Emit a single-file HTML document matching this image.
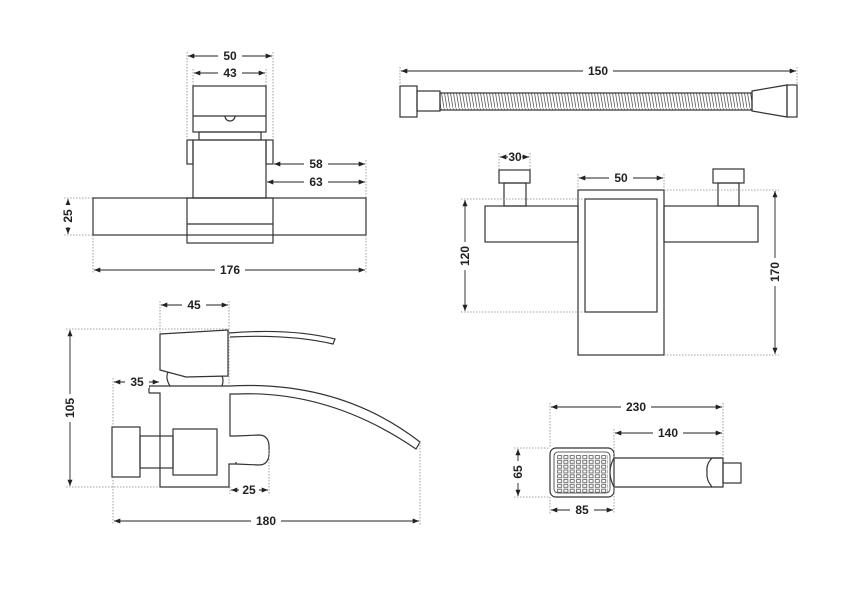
<!DOCTYPE html>
<html><head><meta charset="utf-8"><style>
html,body{margin:0;padding:0;background:#fff;}
svg{display:block;}
text{font-family:"Liberation Sans",sans-serif;font-size:12px;fill:#222;font-weight:600;}
</style></head><body>
<svg width="842" height="595" viewBox="0 0 842 595" xmlns="http://www.w3.org/2000/svg">
<defs>
<marker id="a" viewBox="0 0 10 10" refX="10" refY="5" markerWidth="7" markerHeight="7" orient="auto-start-reverse"><path d="M0,1 L10,5 L0,9 z" fill="#222"/></marker>
<pattern id="coil" width="3" height="18" patternUnits="userSpaceOnUse"><line x1="0" y1="0" x2="3" y2="18" stroke="#555" stroke-width="0.8"/></pattern>
<pattern id="grid" x="557" y="455" width="6.3" height="4.8" patternUnits="userSpaceOnUse"><rect x="0.6" y="0.6" width="4" height="3" fill="none" stroke="#555" stroke-width="0.8"/></pattern>
</defs>
<g fill="none" stroke="#333" stroke-width="1.2">
<!-- TOP LEFT -->
<rect x="193" y="86" width="73" height="46"/>
<line x1="193" y1="116" x2="266" y2="116"/>
<path d="M225,116 a5,5 0 0 0 10,0"/>
<rect x="199" y="132" width="62" height="8"/>
<rect x="193" y="140" width="73" height="58"/>
<rect x="187" y="140" width="6" height="24"/>
<rect x="266" y="140" width="7" height="24"/>
<rect x="93" y="198" width="273" height="37"/>
<rect x="187" y="198" width="86" height="45"/>
<line x1="187" y1="224" x2="273" y2="224"/>
<!-- HOSE -->
<rect x="400" y="86" width="17" height="31"/>
<rect x="417" y="91" width="23" height="20"/>
<rect x="440" y="93" width="312" height="17" fill="url(#coil)"/>
<path d="M752,91 L787,85 L787,117 L752,111 z"/>
<rect x="787" y="85" width="10" height="32"/>
<!-- TOP RIGHT MIXER -->
<rect x="499" y="170" width="31" height="13"/>
<rect x="504" y="183" width="22" height="23"/>
<rect x="713" y="169" width="31" height="14"/>
<rect x="718" y="183" width="21" height="23"/>
<rect x="485" y="206" width="93" height="36"/>
<rect x="664" y="206" width="94" height="36"/>
<rect x="578" y="190" width="86" height="165"/>
<rect x="585" y="199" width="72" height="113"/>
<!-- BOTTOM LEFT -->
<path d="M160,334 L228,330 L228,376 L186,377 L160,370 z"/>
<path d="M229,333 Q290,328 335,339 L333,344 Q290,334 230,337"/>
<path d="M170,386 Q165,378 168,372"/>
<path d="M222,386 Q224,380 222,376"/>
<path d="M149,393 L149,386 L229,386"/>
<path d="M229,386 Q340,380 420,442 L416,449 Q330,390 236,394"/>
<path d="M149,393 L160,393 L160,487 L229,487 L229,464 L236,464 L236,462"/>
<path d="M236,394 L230,394 L230,436 L236,436"/>
<path d="M236,436 L259,435 Q270,435 269,450 Q270,465 259,465 L236,464"/>
<rect x="112" y="427" width="28" height="50" fill="#fff"/>
<rect x="140" y="436" width="33" height="32"/>
<rect x="173" y="429" width="44" height="46"/>
<!-- BOTTOM RIGHT -->
<rect x="550" y="448" width="64" height="49" rx="6"/>
<rect x="554" y="452" width="56" height="41" rx="4" stroke-width="0.8"/>
<rect x="557" y="455" width="51" height="38" fill="url(#grid)" stroke="none"/>
<path d="M614,458 L723,458 L723,487 L614,487 Q606,472 614,458"/>
<path d="M723,458 L712,458 Q706,464 707,472 Q706,480 712,487"/>
<rect x="723" y="463" width="18" height="20"/>
</g>
<!-- dotted extension lines -->
<g fill="none" stroke="#888" stroke-width="0.8" stroke-dasharray="1.5,1.5">
<path d="M187,52 V140 M273,52 V140 M193,69 V86 M266,69 V86 M366,160 V198 M93,235 V274 M366,235 V274 M64,198 H93 M64,235 H93"/>
<path d="M400,67 V86 M797,67 V85"/>
<path d="M499,153 V170 M530,153 V170 M578,174 V190 M664,174 V190 M461,199 H585 M461,312 H585 M664,190 H779 M664,355 H779"/>
<path d="M160,301 V334 M229,301 V386 M66,329 H228 M66,487 H160 M113,378 V427 M113,477 V525 M420,442 V525 M269,450 V494 M230,487 V494"/>
<path d="M550,403 V448 M723,403 V458 M614,429 V458 M514,448 H550 M514,497 H550 M550,497 V514 M614,487 V514"/>
</g>
<!-- dimension lines -->
<g fill="none" stroke="#222" stroke-width="0.9" marker-start="url(#a)" marker-end="url(#a)">
<line x1="188" y1="56" x2="272" y2="56"/>
<line x1="194" y1="73" x2="265" y2="73"/>
<line x1="274" y1="164" x2="365" y2="164"/>
<line x1="267" y1="182" x2="365" y2="182"/>
<line x1="68" y1="199" x2="68" y2="234"/>
<line x1="94" y1="270" x2="365" y2="270"/>
<line x1="401" y1="71" x2="796" y2="71"/>
<line x1="500" y1="157" x2="529" y2="157"/>
<line x1="579" y1="178" x2="663" y2="178"/>
<line x1="465" y1="200" x2="465" y2="311"/>
<line x1="775" y1="191" x2="775" y2="354"/>
<line x1="161" y1="305" x2="228" y2="305"/>
<line x1="114" y1="382" x2="159" y2="382"/>
<line x1="70" y1="330" x2="70" y2="486"/>
<line x1="231" y1="490" x2="268" y2="490"/>
<line x1="114" y1="521" x2="419" y2="521"/>
<line x1="551" y1="407" x2="722" y2="407"/>
<line x1="615" y1="433" x2="722" y2="433"/>
<line x1="518" y1="449" x2="518" y2="496"/>
<line x1="551" y1="510" x2="613" y2="510"/>
</g>
<!-- labels -->
<g text-anchor="middle">
<rect x="218" y="50" width="24" height="12" fill="#fff"/><text x="230" y="60">50</text>
<rect x="218" y="67" width="24" height="12" fill="#fff"/><text x="230" y="77">43</text>
<rect x="304" y="158" width="24" height="12" fill="#fff"/><text x="316" y="168">58</text>
<rect x="304" y="176" width="24" height="12" fill="#fff"/><text x="316" y="186">63</text>
<rect x="62" y="205" width="12" height="22" fill="#fff"/><text transform="translate(72,216) rotate(-90)">25</text>
<rect x="215" y="264" width="30" height="12" fill="#fff"/><text x="230" y="274">176</text>
<rect x="583" y="65" width="30" height="12" fill="#fff"/><text x="598" y="75">150</text>
<rect x="508" y="151" width="14" height="12" fill="#fff"/><text x="515" y="161">30</text>
<rect x="609" y="172" width="24" height="12" fill="#fff"/><text x="621" y="182">50</text>
<rect x="459" y="242" width="12" height="28" fill="#fff"/><text transform="translate(469,256) rotate(-90)">120</text>
<rect x="769" y="258" width="12" height="28" fill="#fff"/><text transform="translate(779,272) rotate(-90)">170</text>
<rect x="182" y="299" width="24" height="12" fill="#fff"/><text x="194" y="309">45</text>
<rect x="125" y="376" width="24" height="12" fill="#fff"/><text x="137" y="386">35</text>
<rect x="64" y="394" width="12" height="28" fill="#fff"/><text transform="translate(74,408) rotate(-90)">105</text>
<rect x="239" y="484" width="20" height="12" fill="#fff"/><text x="249" y="494">25</text>
<rect x="251" y="515" width="30" height="12" fill="#fff"/><text x="266" y="525">180</text>
<rect x="621" y="401" width="30" height="12" fill="#fff"/><text x="636" y="411">230</text>
<rect x="653" y="427" width="30" height="12" fill="#fff"/><text x="668" y="437">140</text>
<rect x="512" y="461" width="12" height="22" fill="#fff"/><text transform="translate(522,472) rotate(-90)">65</text>
<rect x="570" y="504" width="24" height="12" fill="#fff"/><text x="582" y="514">85</text>
</g>
</svg>
</body></html>
